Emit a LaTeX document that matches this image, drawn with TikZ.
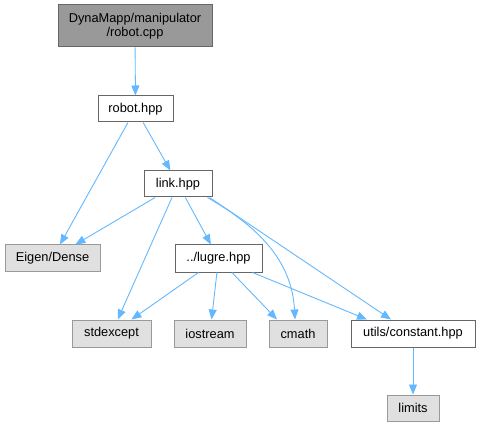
\documentclass[tikz,border=0pt]{standalone}
\usepackage{fontspec}
\setmainfont{Liberation Sans}
\usetikzlibrary{arrows.meta}
\definecolor{edgeblue}{HTML}{63B8FF}
\definecolor{extfill}{HTML}{E0E0E0}
\definecolor{extdraw}{HTML}{999999}
\definecolor{rootfill}{HTML}{999999}
\definecolor{boxdraw}{HTML}{666666}

\begin{document}
\begin{tikzpicture}[x=1pt, y=-1pt, every node/.style={font=\fontsize{12.8}{14.5}\selectfont, inner sep=0pt},
	filebox/.style={draw=boxdraw, fill=white, line width=1pt, minimum height=26pt},
	extbox/.style={draw=extdraw, fill=extfill, line width=1pt, minimum height=26pt},
	dep/.style={draw=edgeblue, line width=0.9pt, -{Triangle[length=10pt, width=8pt, fill=edgeblue]}}]
	\useasboundingbox (0,0) rectangle (481,427);
	\node[draw=boxdraw, fill=rootfill, line width=1pt, minimum width=154pt, minimum height=42pt, align=center] (root) at (135,26) {DynaMapp/manipulator\\/robot.cpp};
	\node[filebox, minimum width=75pt] (robot) at (135.5,109) {robot.hpp};
	\node[filebox, minimum width=68pt] (link) at (178,184) {link.hpp};
	\node[extbox, minimum width=95pt] (eigen) at (52.5,258) {Eigen/Dense};
	\node[filebox, minimum width=87pt, minimum height=27pt] (lugre) at (218.5,258.5) {../lugre.hpp};
	\node[extbox, minimum width=79pt, minimum height=27pt] (stdexcept) at (111.5,333.5) {stdexcept};
	\node[extbox, minimum width=72pt, minimum height=27pt] (iostream) at (210,333.5) {iostream};
	\node[extbox, minimum width=58pt, minimum height=27pt] (cmath) at (298,333.5) {cmath};
	\node[filebox, minimum width=124pt, minimum height=27pt] (constant) at (413,333.5) {utils/constant.hpp};
	\node[extbox, minimum width=52pt] (limits) at (413,408) {limits};
	% includes
	\draw[dep] (root) -- (robot);
	\draw[dep] (robot) -- (eigen);
	\draw[dep] (robot) -- (link);
	\draw[dep] (link) -- (eigen);
	\draw[dep] (link) -- (stdexcept);
	\draw[dep] (link) -- (lugre);
	\draw[dep] ([xshift=-5pt]link.south east) to[out=-30, in=93] ([xshift=-3pt]cmath.north);
	\draw[dep] ([xshift=-3pt]link.south east) -- ([xshift=-22pt]constant.north);
	\draw[dep] (lugre) -- (stdexcept);
	\draw[dep] (lugre) -- (iostream);
	\draw[dep] (lugre) -- ([xshift=-21pt]cmath.north);
	\draw[dep] (lugre) -- ([xshift=-46pt]constant.north);
	\draw[dep] (constant) -- (limits);
\end{tikzpicture}
\end{document}
